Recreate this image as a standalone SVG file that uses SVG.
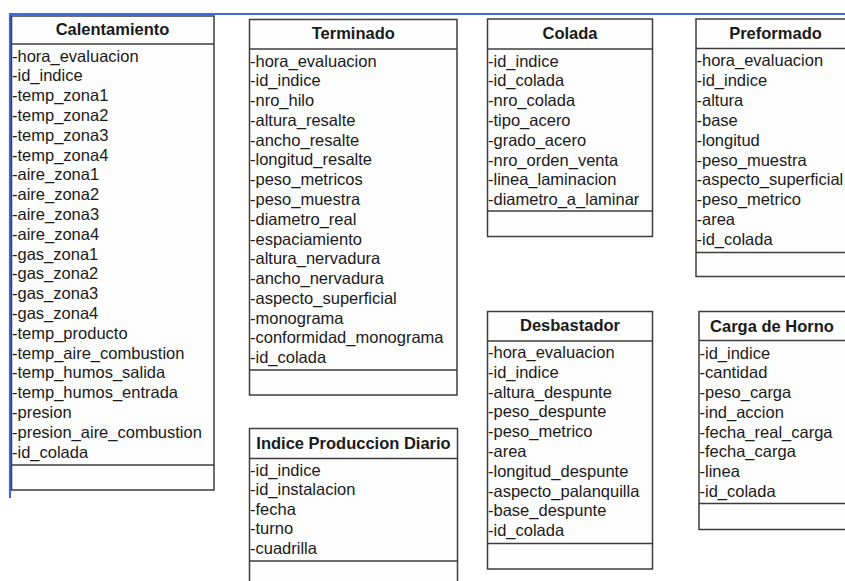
<svg xmlns="http://www.w3.org/2000/svg" width="845" height="581" viewBox="0 0 845 581">
<style>
.box{fill:#fdfdfd;stroke:#3c3c3c;stroke-width:1.5}
.sep{stroke:#3c3c3c;stroke-width:1.5}
.shadow{fill:none;stroke:#b8b8b8;stroke-width:1}
.t{font-family:"Liberation Sans",Arial,sans-serif;font-size:16.5px;font-weight:bold;fill:#1a1a1a;text-anchor:middle}
.a{font-family:"Liberation Sans",Arial,sans-serif;font-size:16.5px;fill:#1a1a1a}
.sel{stroke:#3d6ae6;stroke-width:2.2;fill:none}
</style>
<rect x="0" y="0" width="845" height="581" fill="#ffffff"/>
<g id="connectors"></g>
<g id="selection">
<line class="sel" x1="9" y1="14" x2="845" y2="14"/>
<line class="sel" x1="10" y1="13" x2="10" y2="498"/>
</g>
<g id="calentamiento">
<rect class="box" x="11.5" y="16" width="202.5" height="474"/>
<line class="sep" x1="11.5" y1="44" x2="214" y2="44"/>
<line class="sep" x1="11.5" y1="465" x2="214" y2="465"/>
<text class="t" x="112.5" y="35">Calentamiento</text>
<text class="a" x="12" y="61.5">-hora_evaluacion</text>
<text class="a" x="12" y="81.3">-id_indice</text>
<text class="a" x="12" y="101.1">-temp_zona1</text>
<text class="a" x="12" y="120.9">-temp_zona2</text>
<text class="a" x="12" y="140.7">-temp_zona3</text>
<text class="a" x="12" y="160.5">-temp_zona4</text>
<text class="a" x="12" y="180.3">-aire_zona1</text>
<text class="a" x="12" y="200.1">-aire_zona2</text>
<text class="a" x="12" y="219.9">-aire_zona3</text>
<text class="a" x="12" y="239.7">-aire_zona4</text>
<text class="a" x="12" y="259.5">-gas_zona1</text>
<text class="a" x="12" y="279.3">-gas_zona2</text>
<text class="a" x="12" y="299.1">-gas_zona3</text>
<text class="a" x="12" y="318.9">-gas_zona4</text>
<text class="a" x="12" y="338.7">-temp_producto</text>
<text class="a" x="12" y="358.5">-temp_aire_combustion</text>
<text class="a" x="12" y="378.3">-temp_humos_salida</text>
<text class="a" x="12" y="398.1">-temp_humos_entrada</text>
<text class="a" x="12" y="417.9">-presion</text>
<text class="a" x="12" y="437.7">-presion_aire_combustion</text>
<text class="a" x="12" y="457.5">-id_colada</text>
</g>
<g id="terminado">
<rect class="box" x="249.5" y="19.5" width="207.5" height="375.5"/>
<line class="sep" x1="249.5" y1="49" x2="457" y2="49"/>
<line class="sep" x1="249.5" y1="370" x2="457" y2="370"/>
<text class="t" x="353.3" y="39">Terminado</text>
<text class="a" x="250" y="66.5">-hora_evaluacion</text>
<text class="a" x="250" y="86.3">-id_indice</text>
<text class="a" x="250" y="106.1">-nro_hilo</text>
<text class="a" x="250" y="125.8">-altura_resalte</text>
<text class="a" x="250" y="145.6">-ancho_resalte</text>
<text class="a" x="250" y="165.4">-longitud_resalte</text>
<text class="a" x="250" y="185.2">-peso_metricos</text>
<text class="a" x="250" y="204.9">-peso_muestra</text>
<text class="a" x="250" y="224.7">-diametro_real</text>
<text class="a" x="250" y="244.5">-espaciamiento</text>
<text class="a" x="250" y="264.3">-altura_nervadura</text>
<text class="a" x="250" y="284.1">-ancho_nervadura</text>
<text class="a" x="250" y="303.9">-aspecto_superficial</text>
<text class="a" x="250" y="323.6">-monograma</text>
<text class="a" x="250" y="343.4">-conformidad_monograma</text>
<text class="a" x="250" y="363.2">-id_colada</text>
</g>
<g id="indice-produccion-diario">
<rect class="box" x="249.5" y="428.5" width="208" height="170"/>
<line class="sep" x1="249.5" y1="458.5" x2="457.5" y2="458.5"/>
<line class="sep" x1="249.5" y1="561" x2="457.5" y2="561"/>
<text class="t" x="353.5" y="448.5">Indice Produccion Diario</text>
<text class="a" x="250" y="475.5">-id_indice</text>
<text class="a" x="250" y="495.1">-id_instalacion</text>
<text class="a" x="250" y="514.7">-fecha</text>
<text class="a" x="250" y="534.3">-turno</text>
<text class="a" x="250" y="553.9">-cuadrilla</text>
</g>
<g id="colada">
<rect class="box" x="487.5" y="19" width="165" height="217.5"/>
<line class="sep" x1="487.5" y1="49" x2="652.5" y2="49"/>
<line class="sep" x1="487.5" y1="211" x2="652.5" y2="211"/>
<text class="t" x="570" y="39">Colada</text>
<text class="a" x="488" y="66.5">-id_indice</text>
<text class="a" x="488" y="86.3">-id_colada</text>
<text class="a" x="488" y="106.1">-nro_colada</text>
<text class="a" x="488" y="125.9">-tipo_acero</text>
<text class="a" x="488" y="145.7">-grado_acero</text>
<text class="a" x="488" y="165.5">-nro_orden_venta</text>
<text class="a" x="488" y="185.3">-linea_laminacion</text>
<text class="a" x="488" y="205.1">-diametro_a_laminar</text>
</g>
<g id="desbastador">
<rect class="box" x="487.5" y="311.5" width="165" height="257.5"/>
<line class="sep" x1="487.5" y1="341" x2="652.5" y2="341"/>
<line class="sep" x1="487.5" y1="543.5" x2="652.5" y2="543.5"/>
<text class="t" x="570" y="331">Desbastador</text>
<text class="a" x="488" y="358">-hora_evaluacion</text>
<text class="a" x="488" y="377.8">-id_indice</text>
<text class="a" x="488" y="397.6">-altura_despunte</text>
<text class="a" x="488" y="417.4">-peso_despunte</text>
<text class="a" x="488" y="437.2">-peso_metrico</text>
<text class="a" x="488" y="457">-area</text>
<text class="a" x="488" y="476.8">-longitud_despunte</text>
<text class="a" x="488" y="496.6">-aspecto_palanquilla</text>
<text class="a" x="488" y="516.4">-base_despunte</text>
<text class="a" x="488" y="536.2">-id_colada</text>
</g>
<g id="preformado">
<rect class="box" x="696" y="19" width="160" height="257.5"/>
<line class="sep" x1="696" y1="48.5" x2="856" y2="48.5"/>
<line class="sep" x1="696" y1="252.5" x2="856" y2="252.5"/>
<text class="t" x="775.5" y="39">Preformado</text>
<text class="a" x="696.5" y="66">-hora_evaluacion</text>
<text class="a" x="696.5" y="85.9">-id_indice</text>
<text class="a" x="696.5" y="105.8">-altura</text>
<text class="a" x="696.5" y="125.7">-base</text>
<text class="a" x="696.5" y="145.6">-longitud</text>
<text class="a" x="696.5" y="165.5">-peso_muestra</text>
<text class="a" x="696.5" y="185.4">-aspecto_superficial</text>
<text class="a" x="696.5" y="205.3">-peso_metrico</text>
<text class="a" x="696.5" y="225.2">-area</text>
<text class="a" x="696.5" y="245.1">-id_colada</text>
</g>
<g id="carga-de-horno">
<rect class="box" x="699" y="311.5" width="150" height="218"/>
<line class="sep" x1="699" y1="340.5" x2="849" y2="340.5"/>
<line class="sep" x1="699" y1="503.5" x2="849" y2="503.5"/>
<text class="t" x="772" y="332">Carga de Horno</text>
<text class="a" x="699.5" y="358.5">-id_indice</text>
<text class="a" x="699.5" y="378.3">-cantidad</text>
<text class="a" x="699.5" y="398">-peso_carga</text>
<text class="a" x="699.5" y="417.8">-ind_accion</text>
<text class="a" x="699.5" y="437.5">-fecha_real_carga</text>
<text class="a" x="699.5" y="457.3">-fecha_carga</text>
<text class="a" x="699.5" y="477.1">-linea</text>
<text class="a" x="699.5" y="496.8">-id_colada</text>
</g>
</svg>
